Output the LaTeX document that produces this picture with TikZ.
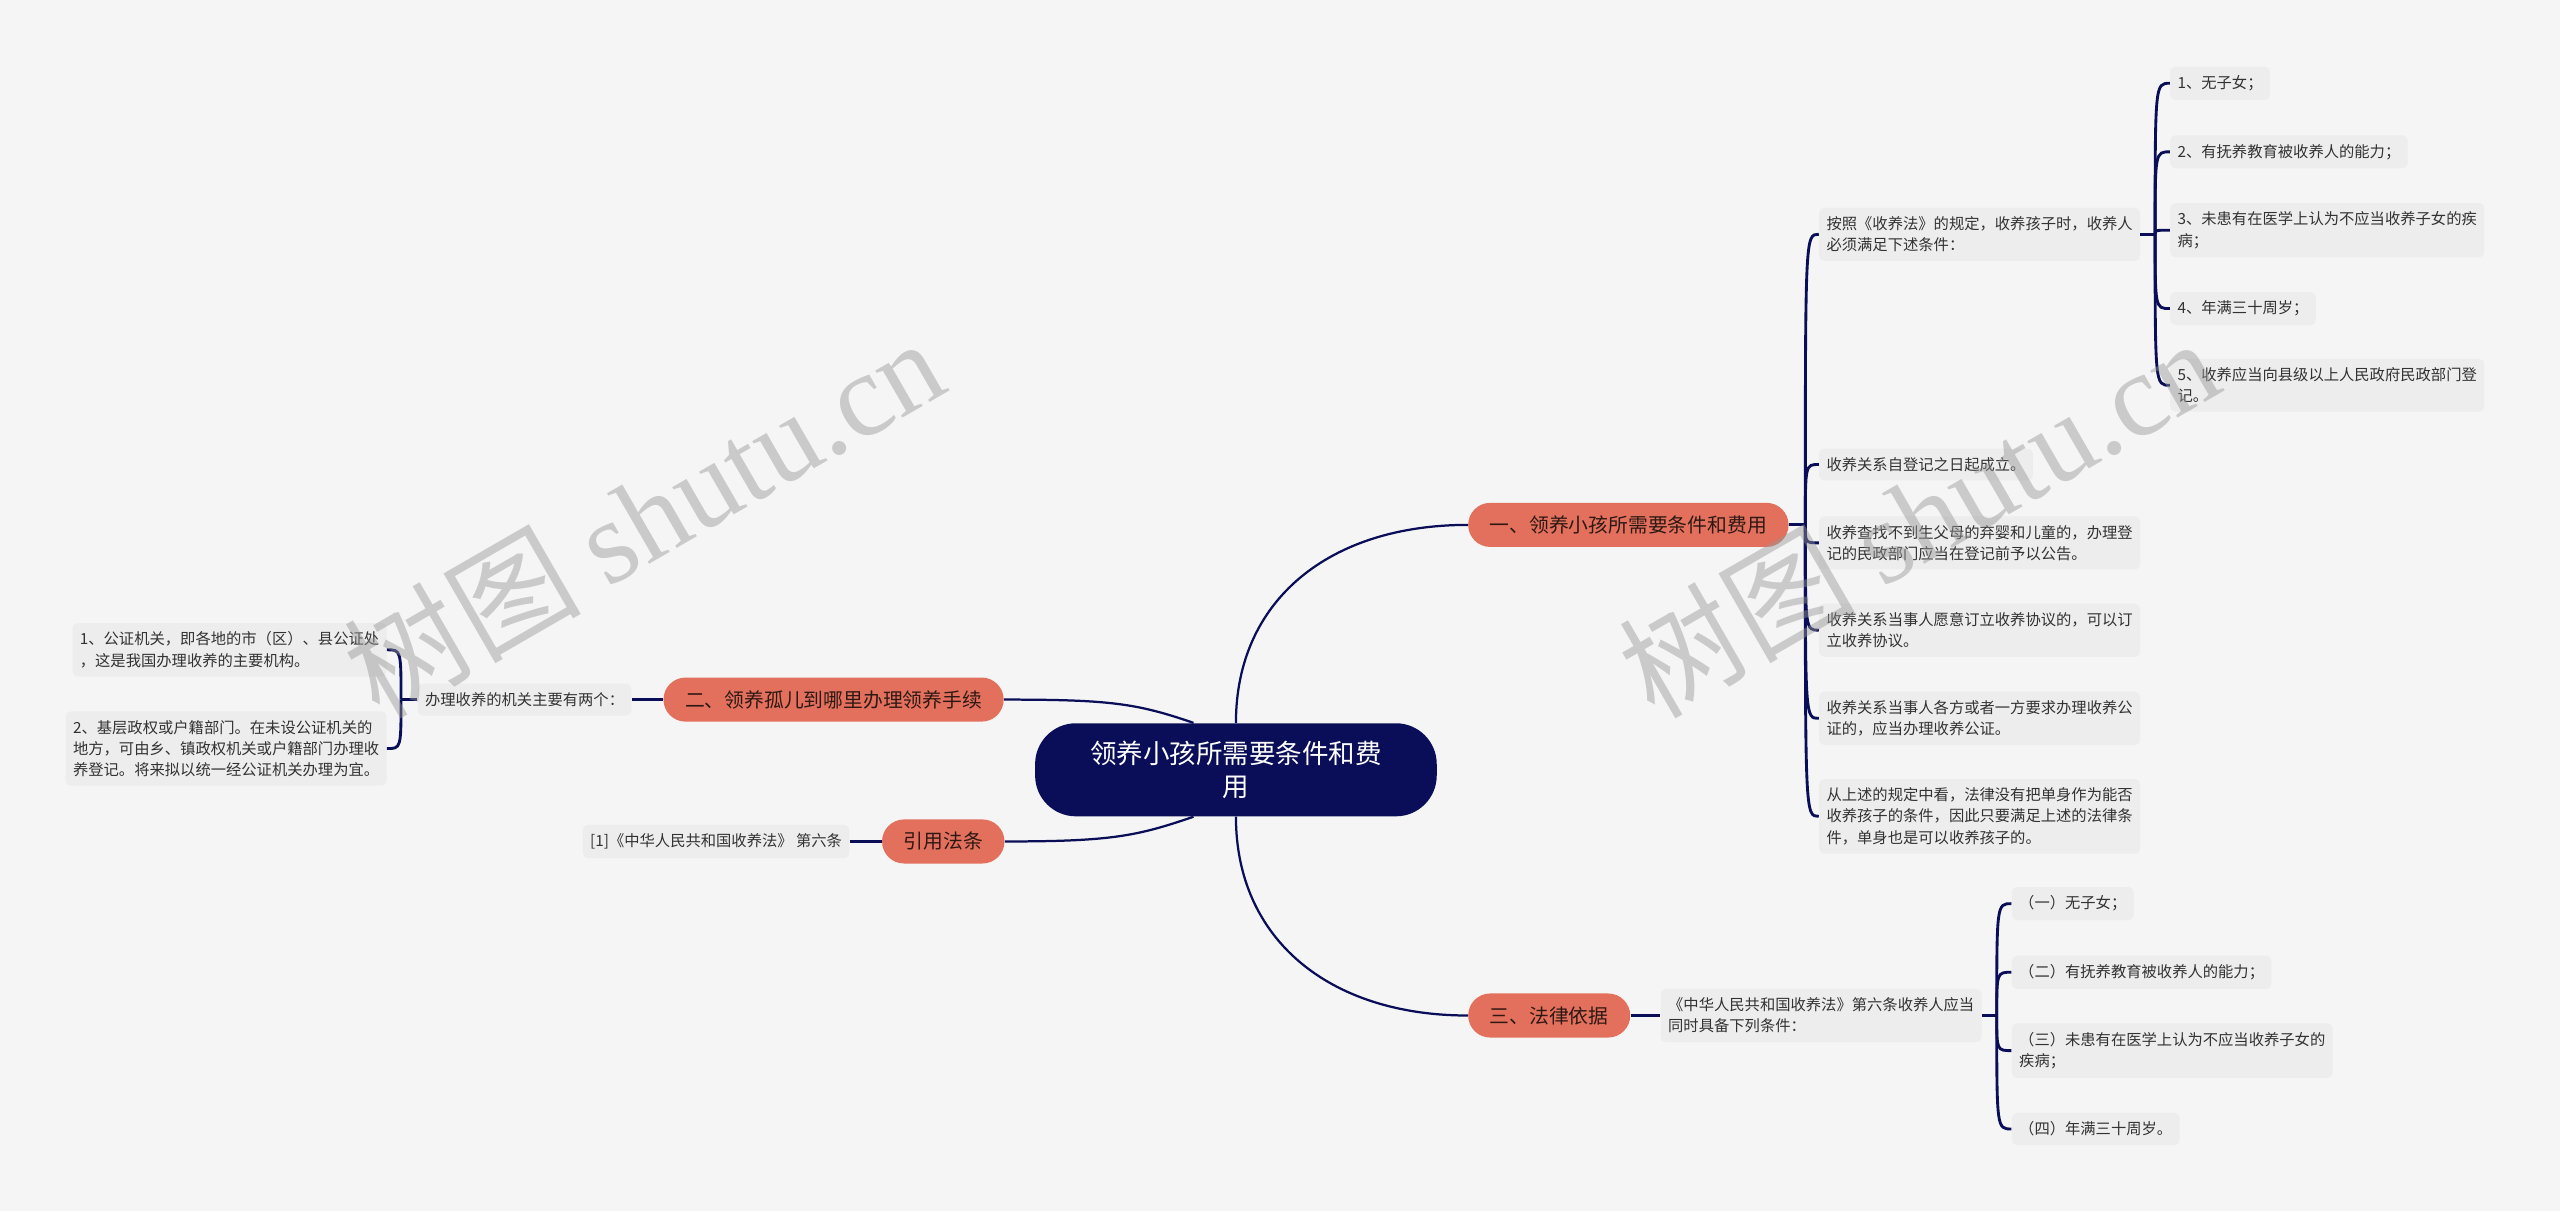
\documentclass[tikz,border=0pt]{standalone}
\usepackage{fontspec}
\setmainfont{Noto Sans CJK SC}
\newfontfamily\wmserif{Liberation Serif}
\usetikzlibrary{calc}
\definecolor{bgc}{RGB}{245,245,245}
\definecolor{navy}{RGB}{10,14,88}
\definecolor{orng}{RGB}{227,112,92}
\definecolor{leafc}{RGB}{237,237,237}
\definecolor{leaftext}{RGB}{50,50,50}
\definecolor{brtext}{RGB}{45,25,20}
\definecolor{wmc}{RGB}{150,150,150}
\begin{document}
\begin{tikzpicture}[x=0.8pt,y=-0.8pt,
  rootnode/.style={fill=navy, text=white, rounded corners=20pt, minimum width=196.8pt,
    minimum height=45.6pt, align=center, inner sep=0pt, font=\fontsize{13}{16}\selectfont},
  branchnode/.style={fill=orng, text=brtext, rounded corners=10.8pt, minimum height=21.6pt,
    inner xsep=10.6pt, inner ysep=0pt, font=\fontsize{9.7}{12}\selectfont},
  leafbox/.style={fill=leafc, text=leaftext, rounded corners=2.5pt, inner xsep=3.6pt,
    inner ysep=4.3pt, align=left, font=\fontsize{7.5}{10.4}\selectfont},
  link/.style={draw=navy, line width=1.1pt},
  brk/.style={draw=navy, line width=1.4pt},
  wmark/.style={text=wmc, text opacity=0.45, rotate=30, font=\fontsize{58}{62}\selectfont}
]
\useasboundingbox (0,0) rectangle (1568,742);
\fill[bgc] (0,0) rectangle (1568,742);

% root
\node[rootnode] (c) at (757,471.5) {领养小孩所需要条件和费\\用};

% main branches
\node[branchnode, anchor=west] (b1) at (899,321.5) {一、领养小孩所需要条件和费用};
\node[branchnode, anchor=west] (b3) at (899,622) {三、法律依据};
\node[branchnode, anchor=east] (b2) at (615,428.5) {二、领养孤儿到哪里办理领养手续};
\node[branchnode, anchor=east] (b4) at (615.5,515.4) {引用法条};

% branch 1 children
\node[leafbox, anchor=west] (c1) at (1114,143.5) {按照《收养法》的规定，收养孩子时，收养人\\必须满足下述条件：};
\node[leafbox, anchor=west] (c2) at (1114,284.5) {收养关系自登记之日起成立。};
\node[leafbox, anchor=west] (c3) at (1114,332.5) {收养查找不到生父母的弃婴和儿童的，办理登\\记的民政部门应当在登记前予以公告。};
\node[leafbox, anchor=west] (c4) at (1114,386) {收养关系当事人愿意订立收养协议的，可以订\\立收养协议。};
\node[leafbox, anchor=west] (c5) at (1114,440) {收养关系当事人各方或者一方要求办理收养公\\证的，应当办理收养公证。};
\node[leafbox, anchor=west] (c6) at (1114,500) {从上述的规定中看，法律没有把单身作为能否\\收养孩子的条件，因此只要满足上述的法律条\\件，单身也是可以收养孩子的。};

% c1 children
\node[leafbox, anchor=west] (i1) at (1329,51) {1、无子女；};
\node[leafbox, anchor=west] (i2) at (1329,93) {2、有抚养教育被收养人的能力；};
\node[leafbox, anchor=west] (i3) at (1329,141) {3、未患有在医学上认为不应当收养子女的疾\\病；};
\node[leafbox, anchor=west] (i4) at (1329,189) {4、年满三十周岁；};
\node[leafbox, anchor=west] (i5) at (1329,236) {5、收养应当向县级以上人民政府民政部门登\\记。};

% branch 3 children
\node[leafbox, anchor=west] (d) at (1017,622) {《中华人民共和国收养法》第六条收养人应当\\同时具备下列条件：};
\node[leafbox, anchor=west] (k1) at (1232,553.5) {（一）无子女；};
\node[leafbox, anchor=west] (k2) at (1232,595.5) {（二）有抚养教育被收养人的能力；};
\node[leafbox, anchor=west] (k3) at (1232,643.5) {（三）未患有在医学上认为不应当收养子女的\\疾病；};
\node[leafbox, anchor=west] (k4) at (1232,691.5) {（四）年满三十周岁。};

% branch 2 children
\node[leafbox, anchor=east] (e) at (387,428.5) {办理收养的机关主要有两个：};
\node[leafbox, anchor=east] (e1) at (237,398) {1、公证机关，即各地的市（区）、县公证处\\，这是我国办理收养的主要机构。};
\node[leafbox, anchor=east] (e2) at (237,458.5) {2、基层政权或户籍部门。在未设公证机关的\\地方，可由乡、镇政权机关或户籍部门办理收\\养登记。将来拟以统一经公证机关办理为宜。};

% branch 4 child
\node[leafbox, anchor=east] (f) at (520.5,515.4) {[1]《中华人民共和国收养法》 第六条};

% root connectors
\draw[link] (c.north) .. controls +(0,-75) and +(-85,0) .. (b1.west);
\draw[link] (c.south) .. controls +(0,75) and +(-85,0) .. (b3.west);
\draw[link] (b2.east) .. controls +(65,0) and +(-35,-12) .. ($(c.north)+(-26,0)$);
\draw[link] (b4.east) .. controls +(65,0) and +(-35,12) .. ($(c.south)+(-26,0)$);

% branch 1 bracket
\coordinate (j1) at ($(b1.east)+(10,0)$);
\draw[brk] (b1.east) -- (j1);
\foreach \n in {c1,c2,c3,c4,c5,c6}
  \draw[brk] (j1) .. controls (j1 |- \n.west) and (j1 |- \n.west) .. (\n.west);

% c1 bracket
\coordinate (j2) at ($(c1.east)+(9,0)$);
\draw[brk] (c1.east) -- (j2);
\foreach \n in {i1,i2,i3,i4,i5}
  \draw[brk] (j2) .. controls (j2 |- \n.west) and (j2 |- \n.west) .. (\n.west);

% branch 3
\draw[brk] (b3.east) -- (d.west);
\coordinate (j3) at ($(d.east)+(9,0)$);
\draw[brk] (d.east) -- (j3);
\foreach \n in {k1,k2,k3,k4}
  \draw[brk] (j3) .. controls (j3 |- \n.west) and (j3 |- \n.west) .. (\n.west);

% branch 2
\draw[brk] (e.east) -- (b2.west);
\coordinate (j4) at ($(e.west)+(-10,0)$);
\draw[brk] (e.west) -- (j4);
\foreach \n in {e1,e2}
  \draw[brk] (j4) .. controls (j4 |- \n.east) and (j4 |- \n.east) .. (\n.east);

% branch 4
\draw[brk] (f.east) -- (b4.west);

% watermarks
\node[wmark] (w1) at (394,316) {树图 {\wmserif shutu.cn}};
\node[wmark] (w2) at (1175,316) {树图 {\wmserif shutu.cn}};
\end{tikzpicture}
\end{document}
